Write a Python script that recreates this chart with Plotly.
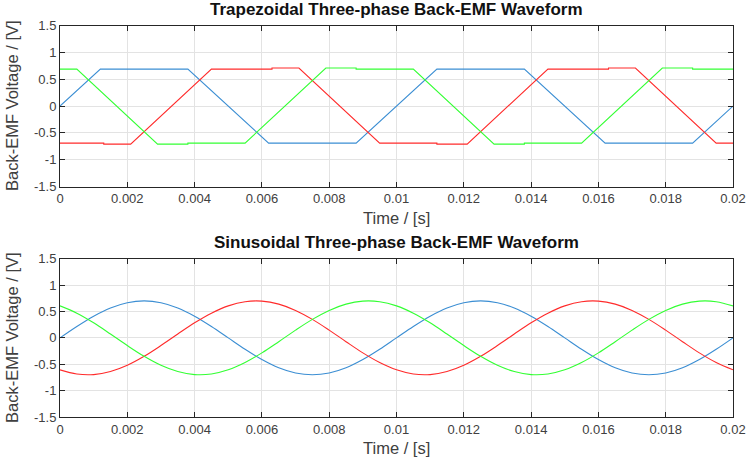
import plotly.graph_objects as go

# ---- Trapezoidal waveform breakpoints (time [s], voltage [V]) ----
trap_blue_t = [0, 0.0012, 0.0038, 0.0062, 0.0088, 0.0112, 0.0138, 0.0162, 0.0188, 0.02]
trap_blue_v = [0, 0.69, 0.69, -0.69, -0.69, 0.69, 0.69, -0.69, -0.69, 0]

trap_red_t = [0, 0.0013, 0.0013, 0.0021, 0.0045, 0.0063, 0.0063, 0.0071, 0.0095,
              0.0112, 0.0112, 0.0121, 0.0145, 0.0163, 0.0163, 0.0171, 0.0195, 0.02]
trap_red_v = [-0.69, -0.69, -0.71, -0.71, 0.69, 0.69, 0.71, 0.71, -0.69,
              -0.69, -0.71, -0.71, 0.69, 0.69, 0.71, 0.71, -0.69, -0.69]

trap_green_t = [0, 0.0005, 0.0029, 0.0038, 0.0038, 0.0055, 0.0079, 0.0088, 0.0088, 0.0105,
                0.0129, 0.0138, 0.0138, 0.0155, 0.0179, 0.0188, 0.0188, 0.02]
trap_green_v = [0.69, 0.69, -0.71, -0.71, -0.69, -0.69, 0.71, 0.71, 0.69, 0.69,
                -0.71, -0.71, -0.69, -0.69, 0.71, 0.71, 0.69, 0.69]

# ---- Sinusoidal waveform samples (every 0.5 ms) ----
sin_t = [i * 0.0005 for i in range(41)]
sin_blue_v = [0, 0.216, 0.411, 0.566, 0.666, 0.700, 0.666, 0.566, 0.411, 0.216,
              0, -0.216, -0.411, -0.566, -0.666, -0.700, -0.666, -0.566, -0.411, -0.216,
              0, 0.216, 0.411, 0.566, 0.666, 0.700, 0.666, 0.566, 0.411, 0.216,
              0, -0.216, -0.411, -0.566, -0.666, -0.700, -0.666, -0.566, -0.411, -0.216, 0]
sin_red_v = [-0.606, -0.685, -0.696, -0.639, -0.520, -0.350, -0.146, 0.073, 0.285, 0.468,
             0.606, 0.685, 0.696, 0.639, 0.520, 0.350, 0.146, -0.073, -0.285, -0.468,
             -0.606, -0.685, -0.696, -0.639, -0.520, -0.350, -0.146, 0.073, 0.285, 0.468,
             0.606, 0.685, 0.696, 0.639, 0.520, 0.350, 0.146, -0.073, -0.285, -0.468, -0.606]
sin_green_v = [0.606, 0.468, 0.285, 0.073, -0.146, -0.350, -0.520, -0.639, -0.696, -0.685,
               -0.606, -0.468, -0.285, -0.073, 0.146, 0.350, 0.520, 0.639, 0.696, 0.685,
               0.606, 0.468, 0.285, 0.073, -0.146, -0.350, -0.520, -0.639, -0.696, -0.685,
               -0.606, -0.468, -0.285, -0.073, 0.146, 0.350, 0.520, 0.639, 0.696, 0.685, 0.606]

x_ticks = [0, 0.002, 0.004, 0.006, 0.008, 0.01, 0.012, 0.014, 0.016, 0.018, 0.02]
x_tick_text = ["0", "0.002", "0.004", "0.006", "0.008", "0.01", "0.012", "0.014", "0.016", "0.018", "0.02"]
y_ticks = [-1.5, -1, -0.5, 0, 0.5, 1, 1.5]
y_tick_text = ["-1.5", "-1", "-0.5", "0", "0.5", "1", "1.5"]

titles = ["Trapezoidal Three-phase Back-EMF Waveform", "Sinusoidal Three-phase Back-EMF Waveform"]
x_label = "Time / [s]"
y_label = "Back-EMF Voltage / [V]"

BLUE = "#3b8ed3"
RED = "#ff2b2b"
GREEN = "#33ff33"
FONT = "Liberation Sans, Arial, sans-serif"
TICKC = "#404040"

fig = go.Figure()
lw = 1.1
fig.add_trace(go.Scatter(x=trap_blue_t, y=trap_blue_v, mode="lines", line=dict(color=BLUE, width=lw), xaxis="x", yaxis="y"))
fig.add_trace(go.Scatter(x=trap_red_t, y=trap_red_v, mode="lines", line=dict(color=RED, width=lw), xaxis="x", yaxis="y"))
fig.add_trace(go.Scatter(x=trap_green_t, y=trap_green_v, mode="lines", line=dict(color=GREEN, width=lw), xaxis="x", yaxis="y"))
fig.add_trace(go.Scatter(x=sin_t, y=sin_blue_v, mode="lines", line=dict(color=BLUE, width=lw, shape="spline"), xaxis="x2", yaxis="y2"))
fig.add_trace(go.Scatter(x=sin_t, y=sin_red_v, mode="lines", line=dict(color=RED, width=lw, shape="spline"), xaxis="x2", yaxis="y2"))
fig.add_trace(go.Scatter(x=sin_t, y=sin_green_v, mode="lines", line=dict(color=GREEN, width=lw, shape="spline"), xaxis="x2", yaxis="y2"))

W, H = 750, 469
xd = [60 / W, 733 / W]
yd1 = [1 - 186.5 / H, 1 - 25.7 / H]
yd2 = [1 - 417 / H, 1 - 258.7 / H]

def xaxis(domain, anchor):
    return dict(domain=domain, anchor=anchor, range=[0, 0.02], tickvals=x_ticks, ticktext=x_tick_text,
                automargin=False,
                showgrid=True, gridcolor="#e3e3e3", gridwidth=1, zeroline=False,
                showline=True, linecolor="#262626", linewidth=1, mirror="ticks",
                ticks="inside", ticklen=5, tickcolor="#262626",
                tickfont=dict(family=FONT, size=13, color=TICKC))

def yaxis(domain, anchor):
    return dict(domain=domain, anchor=anchor, range=[-1.5, 1.5], tickvals=y_ticks, ticktext=y_tick_text,
                automargin=False,
                showgrid=True, gridcolor="#e3e3e3", gridwidth=1, zeroline=False,
                showline=True, linecolor="#262626", linewidth=1, mirror="ticks",
                ticks="inside", ticklen=5, tickcolor="#262626",
                tickfont=dict(family=FONT, size=13, color=TICKC))

fig.update_layout(
    width=W, height=H, margin=dict(l=0, r=0, t=0, b=0, autoexpand=False),
    paper_bgcolor="white", plot_bgcolor="white", showlegend=False,
    xaxis=xaxis(xd, "y"), yaxis=yaxis(yd1, "x"),
    xaxis2=xaxis(xd, "y2"), yaxis2=yaxis(yd2, "x2"),
)

cx = (xd[0] + xd[1]) / 2
ann = []
for i, (yt, xl, yc) in enumerate([(10, 218, 106), (242, 448, 338)]):
    ann.append(dict(text="<b>" + titles[i] + "</b>", x=cx, y=1 - yt / H, xref="paper", yref="paper",
                    showarrow=False, xanchor="center", yanchor="middle",
                    font=dict(family=FONT, size=17, color="#111111")))
    ann.append(dict(text=x_label, x=cx, y=1 - xl / H, xref="paper", yref="paper",
                    showarrow=False, xanchor="center", yanchor="middle",
                    font=dict(family=FONT, size=16.5, color=TICKC)))
    ann.append(dict(text=y_label, x=12 / W, y=1 - yc / H, xref="paper", yref="paper",
                    showarrow=False, xanchor="center", yanchor="middle", textangle=-90,
                    font=dict(family=FONT, size=16.5, color=TICKC)))
fig.update_layout(annotations=ann)

# remove the default page margin so the 750x469 figure fills the window exactly
fig.write_html("out.html", config={"displayModeBar": False},
               post_script="document.body.style.margin='0';")
